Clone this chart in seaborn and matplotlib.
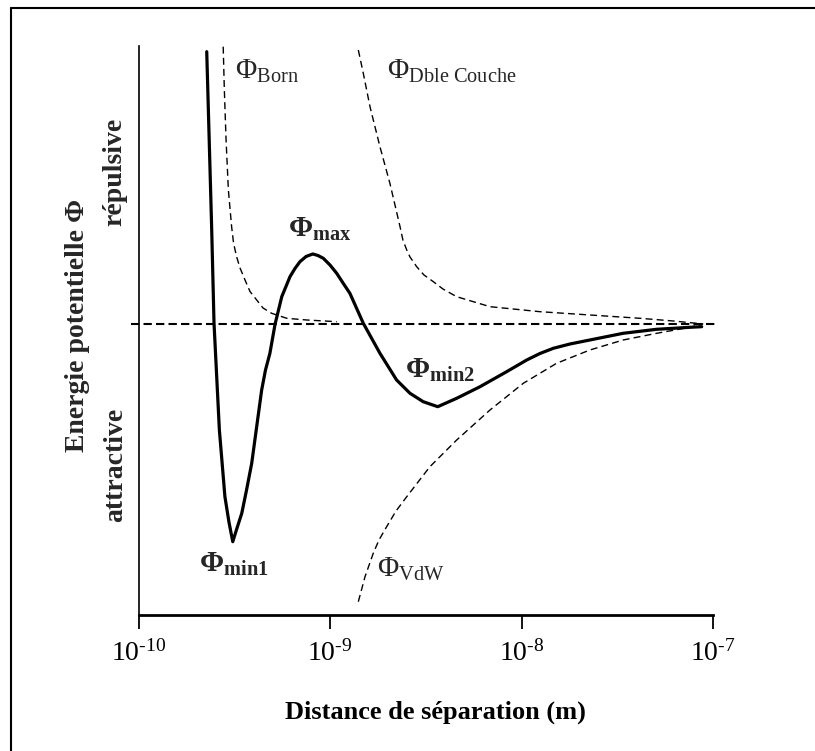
import numpy as np
import matplotlib
matplotlib.use("Agg")
import matplotlib.pyplot as plt
from matplotlib.lines import Line2D
from matplotlib.ticker import NullLocator
import seaborn as sns

# courbes : log10(distance en m) et energie (unites arbitraires)
log_total = [-9.645, -9.619, -9.607, -9.579, -9.550, -9.529, -9.509, -9.490, -9.462,
             -9.437, -9.410, -9.385, -9.358, -9.338, -9.315, -9.288, -9.253, -9.210,
             -9.184, -9.158, -9.126, -9.091, -9.064, -9.036, -9.001, -8.966, -8.933,
             -8.897, -8.827, -8.740, -8.653, -8.583, -8.514, -8.438, -8.339, -8.217,
             -8.078, -7.973, -7.904, -7.834, -7.747, -7.643, -7.469, -7.294, -7.120,
             -7.059]
phi_total = [2.725, 0.942, 0.012, -1.058, -1.725, -1.978, -2.175, -2.058, -1.891,
             -1.658, -1.391, -1.038, -0.658, -0.458, -0.291, 0.0, 0.275, 0.475,
             0.557, 0.625, 0.677, 0.702, 0.687, 0.659, 0.592, 0.509, 0.412,
             0.309, 0.009, -0.291, -0.558, -0.691, -0.775, -0.825, -0.741, -0.625,
             -0.475, -0.358, -0.293, -0.241, -0.198, -0.158, -0.091, -0.051, -0.031,
             -0.025]

log_born = [-9.559, -9.553, -9.544, -9.532, -9.515, -9.505, -9.489, -9.471, -9.445,
            -9.419, -9.384, -9.351, -9.306, -9.227, -9.123, -8.966]
phi_born = [2.775, 2.342, 1.842, 1.342, 0.975, 0.812, 0.675, 0.562, 0.442,
            0.327, 0.242, 0.162, 0.109, 0.059, 0.042, 0.025]

log_dc = [-8.853, -8.827, -8.792, -8.740, -8.688, -8.635, -8.620, -8.600, -8.583,
          -8.548, -8.510, -8.461, -8.411, -8.339, -8.165, -7.904, -7.643, -7.381,
          -7.207, -7.051]
phi_dc = [2.742, 2.509, 2.175, 1.775, 1.409, 0.975, 0.842, 0.742, 0.672,
          0.575, 0.492, 0.425, 0.352, 0.275, 0.175, 0.125, 0.092, 0.059,
          0.032, 0.002]

log_vdw = [-8.853, -8.818, -8.775, -8.745, -8.705, -8.656, -8.600, -8.479, -8.339,
           -8.165, -7.991, -7.817, -7.643, -7.469, -7.294, -7.120, -7.052]
phi_vdw = [-2.775, -2.525, -2.291, -2.158, -2.025, -1.868, -1.725, -1.425, -1.158,
           -0.858, -0.591, -0.391, -0.258, -0.158, -0.091, -0.031, 0.002]

ticks = [1e-10, 1e-9, 1e-8, 1e-7]
tick_labels = ["10$^{\\text{-10}}$", "10$^{\\text{-9}}$", "10$^{\\text{-8}}$",
               "10$^{\\text{-7}}$"]

# etiquettes des courbes : texte, log10(x), y, gras
labels = [("Φ$_{\\mathrm{Born}}$", -9.497, 2.452, False),
          ("Φ$_{\\mathrm{Dble\\ Couche}}$", -8.703, 2.452, False),
          ("Φ$_{\\mathbf{max}}$", -9.220, 0.872, True),
          ("Φ$_{\\mathbf{min2}}$", -8.609, -0.538, True),
          ("Φ$_{\\mathbf{min1}}$", -9.685, -2.478, True),
          ("Φ$_{\\mathrm{VdW}}$", -8.757, -2.528, False)]

sns.set_theme(style="white")
plt.rcParams["font.family"] = ["Liberation Serif", "DejaVu Serif"]
plt.rcParams["mathtext.fontset"] = "custom"
plt.rcParams["mathtext.rm"] = "Liberation Serif"
plt.rcParams["mathtext.it"] = "Liberation Serif:italic"
plt.rcParams["mathtext.bf"] = "Liberation Serif:bold"

fig = plt.figure(figsize=(8.15, 7.51), dpi=100)
ax = fig.add_axes([0.1703, 0.1811, 0.7045, 0.757])

to_m = lambda l: 10.0 ** np.array(l)

sns.lineplot(x=to_m(log_born), y=phi_born, ax=ax, color="black", lw=1.0,
             linestyle=(0, (5, 3)), sort=False, errorbar=None)
sns.lineplot(x=to_m(log_dc), y=phi_dc, ax=ax, color="black", lw=1.0,
             linestyle=(0, (5, 3)), sort=False, errorbar=None)
sns.lineplot(x=to_m(log_vdw), y=phi_vdw, ax=ax, color="black", lw=1.0,
             linestyle=(0, (5, 3)), sort=False, errorbar=None)
sns.lineplot(x=to_m(log_total), y=phi_total, ax=ax, color="black", lw=2.3,
             sort=False, errorbar=None)
for ln in ax.lines:
    ln.set_solid_joinstyle("round")

ax.set_xscale("log")
ax.set_xlim(1e-10, 1e-7)
ax.set_ylim(-2.908, 2.777)

# ligne du zero, un peu plus longue que l'axe
ax.plot([10 ** -10.04, 10 ** -6.98], [0, 0], color="black", lw=1.5,
        linestyle=(0, (4, 2)), clip_on=False, zorder=1)

for txt, lx, ly, bold in labels:
    ax.text(10 ** lx, ly, txt, fontsize=21, ha="left", va="baseline",
            fontweight="bold" if bold else "normal")

sns.despine(ax=ax)
ax.spines["left"].set_linewidth(1.2)
ax.spines["left"].set_color("black")
ax.spines["bottom"].set_linewidth(2.0)
ax.spines["bottom"].set_color("black")

ax.set_xticks(ticks)
ax.set_xticklabels(tick_labels, fontsize=20)
ax.xaxis.set_minor_locator(NullLocator())
ax.tick_params(axis="x", bottom=True, direction="out", length=10, width=1.3,
               color="black", pad=8, labelcolor="black")
ax.set_yticks([])

ax.set_xlabel("Distance de séparation (m)", fontsize=19, fontweight="bold",
              color="black")
ax.xaxis.set_label_coords(0.516, -0.1706)
ax.xaxis.label.set_va("center")

fig.text(77 / 815, 1 - 325 / 751, "Energie potentielle Φ", rotation=90,
         fontsize=20, fontweight="bold", ha="center", va="center")
fig.text(115 / 815, 1 - 172 / 751, "répulsive", rotation=90,
         fontsize=20, fontweight="bold", ha="center", va="center")
fig.text(116 / 815, 1 - 465 / 751, "attractive", rotation=90,
         fontsize=20, fontweight="bold", ha="center", va="center")

# cadre (haut et gauche)
fig.add_artist(Line2D([10.5 / 815, 1], [1 - 7.5 / 751] * 2, color="black", lw=1.5))
fig.add_artist(Line2D([10.5 / 815] * 2, [0, 1 - 7.5 / 751], color="black", lw=1.5))

fig.savefig("out.png", dpi=100)
